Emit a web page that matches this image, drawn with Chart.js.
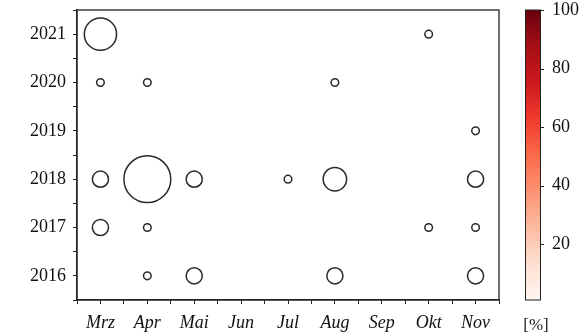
<!DOCTYPE html>
<html>
<head>
<meta charset="utf-8">
<script src="https://cdn.jsdelivr.net/npm/chart.js@4/dist/chart.umd.min.js"></script>
<style>
  html, body { margin: 0; padding: 0; background: #fff; }
  #wrap { width: 587px; height: 335px; position: relative; }
</style>
</head>
<body>
<div id="wrap"><canvas id="c" width="587" height="335"></canvas></div>
<script>
// Month categories along x, years along y
const months = ['Mrz', 'Apr', 'Mai', 'Jun', 'Jul', 'Aug', 'Sep', 'Okt', 'Nov'];
const years = [2016, 2017, 2018, 2019, 2020, 2021];

// One entry per circle: month, year and the count that sets the circle area
const pointMonth = ['Mrz', 'Okt', 'Mrz', 'Apr', 'Aug', 'Nov', 'Mrz', 'Apr', 'Mai', 'Jul', 'Aug', 'Nov', 'Mrz', 'Apr', 'Okt', 'Nov', 'Apr', 'Mai', 'Aug', 'Nov'];
const pointYear  = [2021, 2021, 2020, 2020, 2020, 2019, 2018, 2018, 2018, 2018, 2018, 2018, 2017, 2017, 2017, 2017, 2016, 2016, 2016, 2016];
const pointCount = [18, 1, 1, 1, 1, 1, 4.5, 38, 4.5, 1, 9.5, 4.5, 4.5, 1, 1, 1, 1, 4.5, 4.5, 4.5];

// Colour bar scale [%]
const cbTicks = [20, 40, 60, 80, 100];
const cbMin = 1, cbMax = 100;
const redsStops = ['#fff5f0', '#fee0d2', '#fcbba1', '#fc9272', '#fb6a4a', '#ef3b2c', '#cb181d', '#a50f15', '#67000d'];

const SERIF = "'Liberation Serif', 'Times New Roman', serif";
const R_PER_SQRT = 3.8;

const points = pointMonth.map((m, i) => ({ x: months.indexOf(m), y: pointYear[i], n: pointCount[i] }));

// keep the plot area fixed: no extra room reserved for overhanging labels
const noScalePadding = s => { s.paddingTop = 0; s.paddingBottom = 0; s.paddingLeft = 0; s.paddingRight = 0; };

const framePlugin = {
  id: 'frameAndColorbar',
  afterDraw(chart) {
    const ctx = chart.ctx;
    const a = chart.chartArea;
    ctx.save();
    // plot frame
    ctx.strokeStyle = '#222';
    ctx.lineWidth = 1.3;
    ctx.strokeRect(a.left, a.top, a.right - a.left, a.bottom - a.top);

    // colour bar drawn along the cb scale
    const cb = chart.scales.cb;
    const x0 = cb.left + 26.5, w = 15;
    const yTop = cb.getPixelForValue(cbMax), yBot = cb.getPixelForValue(cbMin);
    const g = ctx.createLinearGradient(0, yBot, 0, yTop);
    redsStops.forEach((c, i) => g.addColorStop(i / (redsStops.length - 1), c));
    ctx.fillStyle = g;
    ctx.fillRect(x0, yTop, w, yBot - yTop);
    ctx.strokeStyle = '#222';
    ctx.lineWidth = 1;
    ctx.strokeRect(x0, yTop, w, yBot - yTop);
    ctx.beginPath();
    cbTicks.forEach(v => {
      const y = Math.round(cb.getPixelForValue(v)) + 0.5;
      ctx.moveTo(x0 + w, y);
      ctx.lineTo(x0 + w + 3.5, y);
    });
    ctx.stroke();

    // unit label under the bar
    ctx.fillStyle = '#222';
    ctx.font = '17px ' + SERIF;
    ctx.textAlign = 'center';
    ctx.textBaseline = 'alphabetic';
    ctx.fillText('[%]', x0 + w / 2 + 3, 330);
    ctx.restore();
  }
};

new Chart(document.getElementById('c'), {
  type: 'scatter',
  data: {
    datasets: [{
      data: points,
      backgroundColor: '#ffffff',
      borderColor: '#2a2a2a',
      borderWidth: 1.5,
      pointRadius: ctx => R_PER_SQRT * Math.sqrt(ctx.raw.n),
      pointHoverRadius: ctx => R_PER_SQRT * Math.sqrt(ctx.raw.n),
      clip: false
    }]
  },
  options: {
    responsive: false,
    animation: false,
    events: [],
    layout: { autoPadding: false, padding: { top: 10, left: 0, right: 0, bottom: 0 } },
    plugins: { legend: { display: false }, tooltip: { enabled: false } },
    scales: {
      x: {
        type: 'linear',
        min: -0.5,
        max: 8.5,
        afterFit: s => { noScalePadding(s); s.height = 35; },
        afterBuildTicks: s => {
          const t = [];
          for (let i = 0; i <= months.length * 2; i++) t.push({ value: -0.5 + i * 0.5 });
          s.ticks = t;
        },
        grid: { drawOnChartArea: false, tickLength: 4, color: '#222', lineWidth: 1 },
        border: { display: true, color: '#222', width: 1.3 },
        ticks: {
          autoSkip: false,
          maxRotation: 0,
          padding: 8,
          color: '#111',
          font: { family: SERIF, size: 18, style: 'italic' },
          callback: v => (Number.isInteger(v) ? months[v] : '')
        }
      },
      y: {
        type: 'linear',
        min: 2015.5,
        max: 2021.5,
        afterFit: s => { noScalePadding(s); s.width = 77; },
        afterBuildTicks: s => {
          const t = [];
          for (let i = 0; i <= years.length * 2; i++) t.push({ value: 2015.5 + i * 0.5 });
          s.ticks = t;
        },
        grid: { drawOnChartArea: false, tickLength: 4, color: '#222', lineWidth: 1 },
        border: { display: true, color: '#222', width: 1.3 },
        ticks: {
          autoSkip: false,
          padding: 7,
          color: '#111',
          font: { family: SERIF, size: 18 },
          callback: v => (Number.isInteger(v) ? String(v) : '')
        }
      },
      cb: {
        type: 'linear',
        position: 'right',
        min: cbMin,
        max: cbMax,
        afterFit: s => { noScalePadding(s); s.width = 88; },
        afterBuildTicks: s => { s.ticks = cbTicks.map(v => ({ value: v })); },
        // invisible tick marks push the labels past the colour bar
        grid: { display: true, drawOnChartArea: false, tickLength: 46, color: 'rgba(0,0,0,0)' },
        border: { display: false },
        ticks: {
          padding: 7,
          color: '#111',
          font: { family: SERIF, size: 18 },
          callback: v => String(v)
        }
      }
    }
  },
  plugins: [framePlugin]
});
</script>
</body>
</html>
